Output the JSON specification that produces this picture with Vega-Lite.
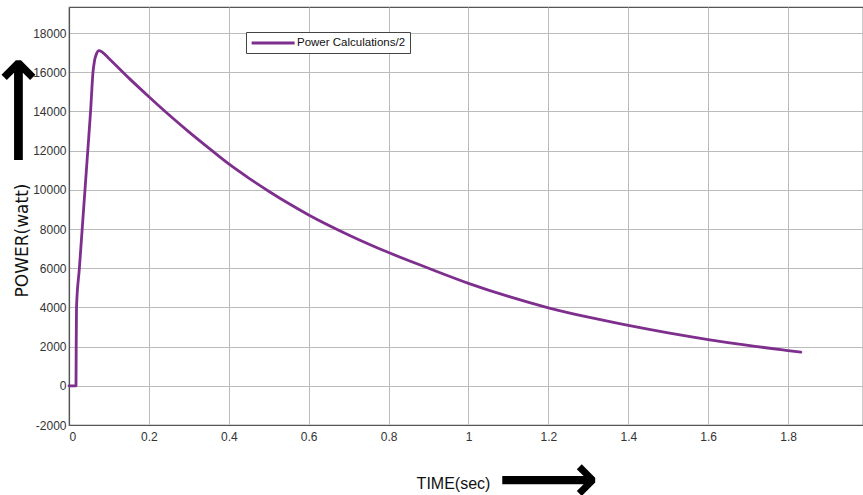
{
  "$schema": "https://vega.github.io/schema/vega-lite/v6.json",
  "autosize": "none",
  "width": 794,
  "height": 418,
  "padding": {"left": 69, "top": 7, "right": 0, "bottom": 70},
  "background": "white",
  "config": {
    "view": {"stroke": "#555", "strokeWidth": 1.2},
    "axis": {
      "labelFont": "Liberation Sans",
      "labelFontSize": 12,
      "labelColor": "#333",
      "gridColor": "#bcbcbc",
      "gridOpacity": 1,
      "gridWidth": 1,
      "domainColor": "#555",
      "domainWidth": 1.2,
      "ticks": false
    }
  },
  "data": {
    "values": [
      {"t": 0, "p": 0, "s": "Power Calculations/2"},
      {"t": 0.0175, "p": 0, "s": "Power Calculations/2"},
      {"t": 0.018, "p": 2000, "s": "Power Calculations/2"},
      {"t": 0.0188, "p": 4000, "s": "Power Calculations/2"},
      {"t": 0.026, "p": 6000, "s": "Power Calculations/2"},
      {"t": 0.033, "p": 8000, "s": "Power Calculations/2"},
      {"t": 0.04, "p": 10000, "s": "Power Calculations/2"},
      {"t": 0.047, "p": 12000, "s": "Power Calculations/2"},
      {"t": 0.054, "p": 14000, "s": "Power Calculations/2"},
      {"t": 0.06, "p": 16000, "s": "Power Calculations/2"},
      {"t": 0.064, "p": 16600, "s": "Power Calculations/2"},
      {"t": 0.069, "p": 16950, "s": "Power Calculations/2"},
      {"t": 0.075, "p": 17100, "s": "Power Calculations/2"},
      {"t": 0.082, "p": 17050, "s": "Power Calculations/2"},
      {"t": 0.1, "p": 16700, "s": "Power Calculations/2"},
      {"t": 0.15, "p": 15700, "s": "Power Calculations/2"},
      {"t": 0.2, "p": 14750, "s": "Power Calculations/2"},
      {"t": 0.25, "p": 13830, "s": "Power Calculations/2"},
      {"t": 0.3, "p": 12960, "s": "Power Calculations/2"},
      {"t": 0.35, "p": 12130, "s": "Power Calculations/2"},
      {"t": 0.4, "p": 11320, "s": "Power Calculations/2"},
      {"t": 0.45, "p": 10600, "s": "Power Calculations/2"},
      {"t": 0.5, "p": 9930, "s": "Power Calculations/2"},
      {"t": 0.55, "p": 9300, "s": "Power Calculations/2"},
      {"t": 0.6, "p": 8720, "s": "Power Calculations/2"},
      {"t": 0.7, "p": 7700, "s": "Power Calculations/2"},
      {"t": 0.8, "p": 6800, "s": "Power Calculations/2"},
      {"t": 0.9, "p": 6000, "s": "Power Calculations/2"},
      {"t": 1.0, "p": 5230, "s": "Power Calculations/2"},
      {"t": 1.1, "p": 4560, "s": "Power Calculations/2"},
      {"t": 1.2, "p": 3980, "s": "Power Calculations/2"},
      {"t": 1.3, "p": 3500, "s": "Power Calculations/2"},
      {"t": 1.4, "p": 3080, "s": "Power Calculations/2"},
      {"t": 1.5, "p": 2700, "s": "Power Calculations/2"},
      {"t": 1.6, "p": 2360, "s": "Power Calculations/2"},
      {"t": 1.7, "p": 2060, "s": "Power Calculations/2"},
      {"t": 1.8, "p": 1800, "s": "Power Calculations/2"},
      {"t": 1.832, "p": 1720, "s": "Power Calculations/2"}
    ]
  },
  "layer": [
    {
      "mark": {"type": "line", "strokeWidth": 2.8, "strokeCap": "round", "strokeJoin": "round", "interpolate": "monotone"},
      "encoding": {
        "x": {
          "field": "t",
          "type": "quantitative",
          "scale": {"domain": [0, 1.9875], "nice": false, "zero": false},
          "axis": {
            "values": [0, 0.2, 0.4, 0.6, 0.8, 1, 1.2, 1.4, 1.6, 1.8],
            "labelExpr": "datum.value + ''",
            "labelPadding": 6,
            "title": "TIME(sec)",
            "titleFont": "Liberation Sans",
            "titleFontSize": 16,
            "titleFontWeight": "normal",
            "titleColor": "#111",
            "titleX": 384,
            "titleY": 58,
            "titleBaseline": "middle",
            "titleAlign": "center"
          }
        },
        "y": {
          "field": "p",
          "type": "quantitative",
          "scale": {"domain": [-2000, 19330], "nice": false, "zero": false},
          "axis": {
            "values": [-2000, 0, 2000, 4000, 6000, 8000, 10000, 12000, 14000, 16000, 18000],
            "labelExpr": "datum.value + ''",
            "labelPadding": 3,
            "title": "POWER(watt)",
            "titleFont": "DejaVu Sans",
            "titleFontSize": 17,
            "titleFontWeight": "normal",
            "titleColor": "#111",
            "titleX": -47,
            "titleY": 233,
            "titleBaseline": "middle",
            "titleAlign": "center",
            "titleAngle": -90
          }
        },
        "color": {
          "field": "s",
          "type": "nominal",
          "scale": {"range": ["#7E2F8E"]},
          "legend": {
            "title": null,
            "orient": "none",
            "legendX": 177,
            "legendY": 25,
            "symbolType": "M-1,0H7",
            "symbolSize": 115.6,
            "symbolStrokeWidth": 3,
            "labelFont": "Liberation Sans",
            "labelFontSize": 11.5,
            "labelColor": "#111",
            "labelOffset": 33,
            "strokeColor": "#444",
            "fillColor": "white",
            "padding": 4,
            "cornerRadius": 0
          }
        }
      }
    },
    {
      "mark": {"type": "line", "opacity": 0},
      "encoding": {
        "x": {
          "field": "t",
          "type": "quantitative",
          "scale": {"domain": [0, 1.9875], "nice": false, "zero": false},
          "axis": {
            "orient": "bottom",
            "labels": false,
            "grid": false,
            "domain": false,
            "ticks": false,
            "title": "⟶",
            "titleFont": "DejaVu Sans",
            "titleFontSize": 70,
            "titleFontWeight": "bold",
            "titleColor": "#000",
            "titleX": 479,
            "titleY": 76,
            "titleBaseline": "alphabetic",
            "titleAlign": "center"
          }
        },
        "y": {
          "field": "p",
          "type": "quantitative",
          "scale": {"domain": [-2000, 19330], "nice": false, "zero": false},
          "axis": {
            "orient": "left",
            "labels": false,
            "grid": false,
            "domain": false,
            "ticks": false,
            "title": "⟶",
            "titleFont": "DejaVu Sans",
            "titleFontSize": 75,
            "titleFontWeight": "bold",
            "titleColor": "#000",
            "titleX": -28,
            "titleY": 103,
            "titleBaseline": "alphabetic",
            "titleAlign": "center",
            "titleAngle": -90
          }
        }
      }
    }
  ],
  "resolve": {
    "scale": {"x": "independent", "y": "independent"},
    "axis": {"x": "independent", "y": "independent"}
  }
}
